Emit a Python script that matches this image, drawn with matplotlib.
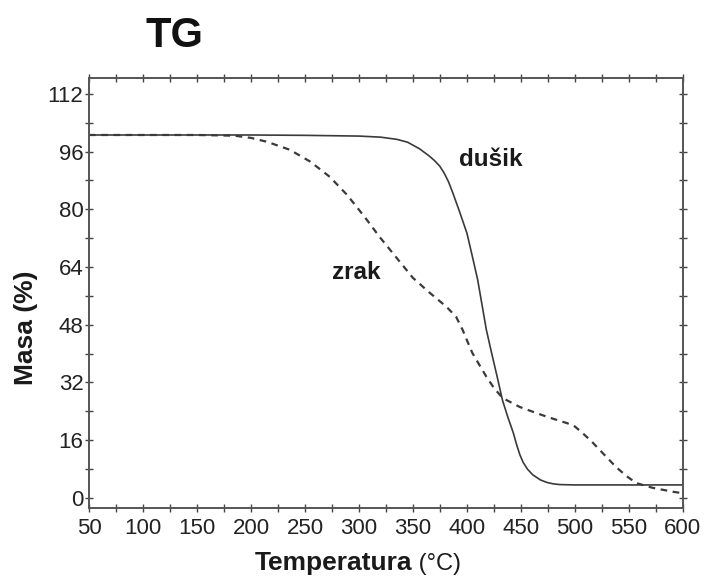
import matplotlib
matplotlib.use('Agg')
import matplotlib.pyplot as plt
from matplotlib.ticker import MultipleLocator

# values
temp_dusik = [50, 100, 150, 200, 250, 300, 320, 335, 345, 356, 365, 370, 375,
              379, 383, 387, 393, 400, 405, 410, 414, 418, 423, 428, 433, 438,
              443, 446, 449, 452, 456, 461, 468, 474, 480, 486, 500, 550, 600]
masa_dusik = [100.6, 100.6, 100.6, 100.6, 100.5, 100.3, 100.0, 99.4, 98.6, 96.8,
              94.8, 93.5, 91.9, 90.0, 87.6, 84.5, 79.5, 73.4, 67.0, 60.4, 53.5,
              46.6, 40.0, 33.6, 27.0, 22.3, 18.0, 14.8, 12.0, 9.9, 8.0, 6.4, 5.0,
              4.3, 3.9, 3.7, 3.6, 3.6, 3.6]

temp_zrak = [50, 150, 185, 200, 215, 236, 255, 273, 289, 305, 319, 335, 350,
             365, 381, 390, 396, 401, 405, 418, 425, 433, 449, 460, 474, 493,
             500, 507, 515, 523, 538, 548, 557, 572, 591, 600]
masa_zrak = [100.6, 100.6, 100.4, 99.8, 98.7, 96.5, 93.2, 89.0, 84.0, 78.0,
             72.4, 66.5, 61.0, 57.0, 53.0, 50.2, 46.6, 43.0, 40.2, 33.6, 30.5,
             27.7, 25.2, 24.0, 22.5, 20.7, 19.8, 18.0, 15.8, 13.3, 8.6, 6.0, 4.1,
             2.8, 1.7, 1.3]

x_ticks = list(range(50, 601, 50))
y_ticks = list(range(0, 113, 16))

plt.rcParams['font.family'] = ['Liberation Sans', 'DejaVu Sans']

fig = plt.figure(figsize=(7.04, 5.82), dpi=100)
ax = fig.add_axes([0.1264, 0.1271, 0.8436, 0.7389])

line_col = '#3a3a3a'
ax.plot(temp_dusik, masa_dusik, color=line_col, lw=1.2)
ax.plot(temp_zrak, masa_zrak, color=line_col, lw=1.6, dashes=(3, 2.5))

ax.set_xlim(50, 600)
ax.set_ylim(-2.8, 116.4)
ax.set_xticks(x_ticks)
ax.set_yticks(y_ticks)
ax.xaxis.set_minor_locator(MultipleLocator(25))
ax.yaxis.set_minor_locator(MultipleLocator(8))
ax.tick_params(which='both', direction='inout', length=6, width=1,
               color='#444444', top=True, right=True,
               labelsize=16, labelcolor='#222222')
ax.tick_params(axis='y', pad=1)
ax.tick_params(axis='x', pad=4)

for sp in ax.spines.values():
    sp.set_color('#555555')
    sp.set_linewidth(1.4)

# curve labels
ax.text(422, 93.7, 'dušik', fontsize=17.5, fontweight='bold', ha='center',
        va='center', color='#1a1a1a')
ax.text(298, 62.4, 'zrak', fontsize=17.5, fontweight='bold', ha='center',
        va='center', color='#1a1a1a')

fig.text(0.248, 0.938, 'TG', fontsize=30, fontweight='bold', ha='center',
         va='center', color='#111111')

# x label: bold word followed by unit in normal weight
xl = fig.text(0.362, 0.012, 'Temperatura', fontsize=19, fontweight='bold',
              ha='left', va='bottom', color='#1a1a1a')
ax.annotate(' (°C)', xy=(1, 0), xycoords=xl, va='bottom', ha='left',
            fontsize=17, color='#1a1a1a')

fig.text(0.037, 0.437, 'Masa (%)', fontsize=19, fontweight='bold',
         rotation=90, ha='center', va='center', color='#1a1a1a')

plt.savefig('out.png', dpi=100)
